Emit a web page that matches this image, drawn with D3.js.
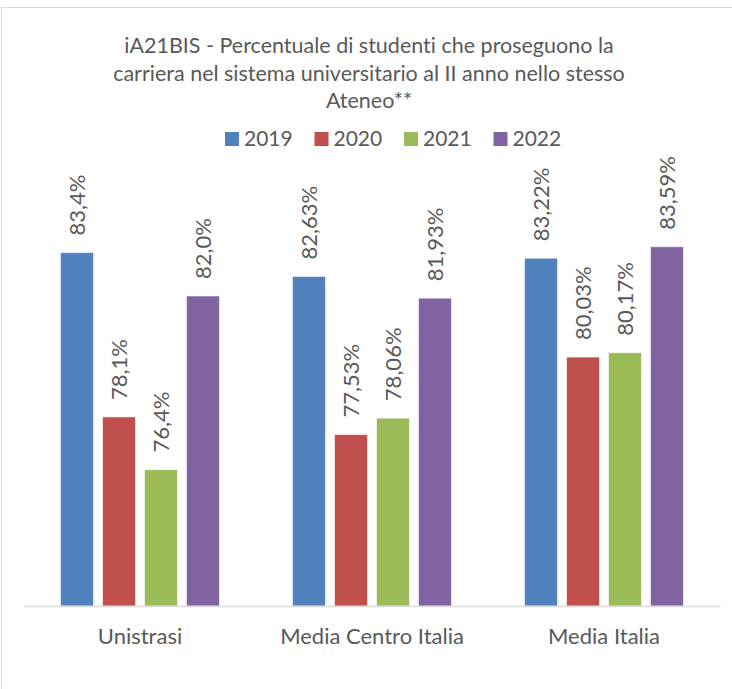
<!DOCTYPE html>
<html lang="it">
<head>
<meta charset="utf-8">
<script src="https://d3js.org/d3.v7.min.js"></script>
<style>
  body { margin: 0; background: #fff; }
  text { font-family: Lato, "Open Sans", sans-serif; fill: #595959; font-variant-ligatures: none; }
</style>
</head>
<body>
<div id="chart"></div>
<script>
// dati
const categories = ["Unistrasi", "Media Centro Italia", "Media Italia"];
const years = ["2019", "2020", "2021", "2022"];
const values2019 = [83.4, 82.63, 83.22];
const values2020 = [78.1, 77.53, 80.03];
const values2021 = [76.4, 78.06, 80.17];
const values2022 = [82.0, 81.93, 83.59];
const labels2019 = ["83,4%", "82,63%", "83,22%"];
const labels2020 = ["78,1%", "77,53%", "80,03%"];
const labels2021 = ["76,4%", "78,06%", "80,17%"];
const labels2022 = ["82,0%", "81,93%", "83,59%"];
const colors = ["#4F81BD", "#C0504D", "#9BBB59", "#8064A2"];
const titleLines = [
  "iA21BIS - Percentuale di studenti che proseguono la",
  "carriera nel sistema universitario al II anno nello stesso",
  "Ateneo**"
];

const seriesVals = [values2019, values2020, values2021, values2022];
const seriesLabels = [labels2019, labels2020, labels2021, labels2022];

const data = [];
categories.forEach((c, i) => {
  years.forEach((y, j) => {
    data.push({cat: c, year: y, value: seriesVals[j][i], label: seriesLabels[j][i], color: colors[j]});
  });
});

const width = 732, height = 689;
const margin = {left: 24, right: 12, top: 172, bottom: 83};

const svg = d3.select("#chart").append("svg")
  .attr("width", width)
  .attr("height", height);

// bordo del grafico
svg.append("rect")
  .attr("x", 1.5).attr("y", 7.5)
  .attr("width", width + 10).attr("height", height)
  .attr("fill", "none")
  .attr("stroke", "#d9d9d9");

const x0 = d3.scaleBand()
  .domain(categories)
  .range([margin.left, width - margin.right]);

const x1 = d3.scaleBand()
  .domain(years)
  .range([0, x0.bandwidth()])
  .paddingInner(0.214)
  .paddingOuter(0.87);

const y = d3.scaleLinear()
  .domain([72, 86])
  .range([height - margin.bottom, margin.top]);

// titolo
svg.append("g").selectAll("text")
  .data(titleLines)
  .enter().append("text")
  .attr("x", 369)
  .attr("y", (d, i) => 53 + i * 27.5)
  .attr("text-anchor", "middle")
  .style("font-size", "21.5px")
  .text(d => d);

// legenda
const legend = svg.append("g").selectAll("g")
  .data(years)
  .enter().append("g")
  .attr("transform", (d, i) => "translate(" + (225 + i * 89.5) + ",132)");
legend.append("rect")
  .attr("width", 14).attr("height", 14)
  .attr("fill", (d, i) => colors[i]);
legend.append("text")
  .attr("x", 19).attr("y", 14)
  .style("font-size", "21px")
  .text(d => d);

// barre
svg.append("g").selectAll("rect")
  .data(data)
  .enter().append("rect")
  .attr("x", d => x0(d.cat) + x1(d.year))
  .attr("y", d => y(d.value))
  .attr("width", x1.bandwidth())
  .attr("height", d => y(72) - y(d.value))
  .attr("fill", d => d.color)
  .attr("stroke", "#fff")
  .attr("stroke-opacity", 0.6)
  .attr("stroke-width", 1);

// etichette dati
svg.append("g").selectAll("text")
  .data(data)
  .enter().append("text")
  .attr("transform", d => {
    const cx = x0(d.cat) + x1(d.year) + x1.bandwidth() / 2;
    return "translate(" + (cx + 8) + "," + (y(d.value) - 17) + ") rotate(-90)";
  })
  .style("font-size", "22px")
  .text(d => d.label);

// asse x
const xAxis = svg.append("g")
  .attr("transform", "translate(0," + y(72) + ")")
  .call(d3.axisBottom(x0).tickSize(0).tickPadding(22));
xAxis.select(".domain").attr("stroke", "#d9d9d9").attr("stroke-width", 1.5);
xAxis.selectAll("text")
  .style("font-size", "22px")
  .style("font-family", "Lato, 'Open Sans', sans-serif")
  .attr("fill", "#595959");
</script>
</body>
</html>
